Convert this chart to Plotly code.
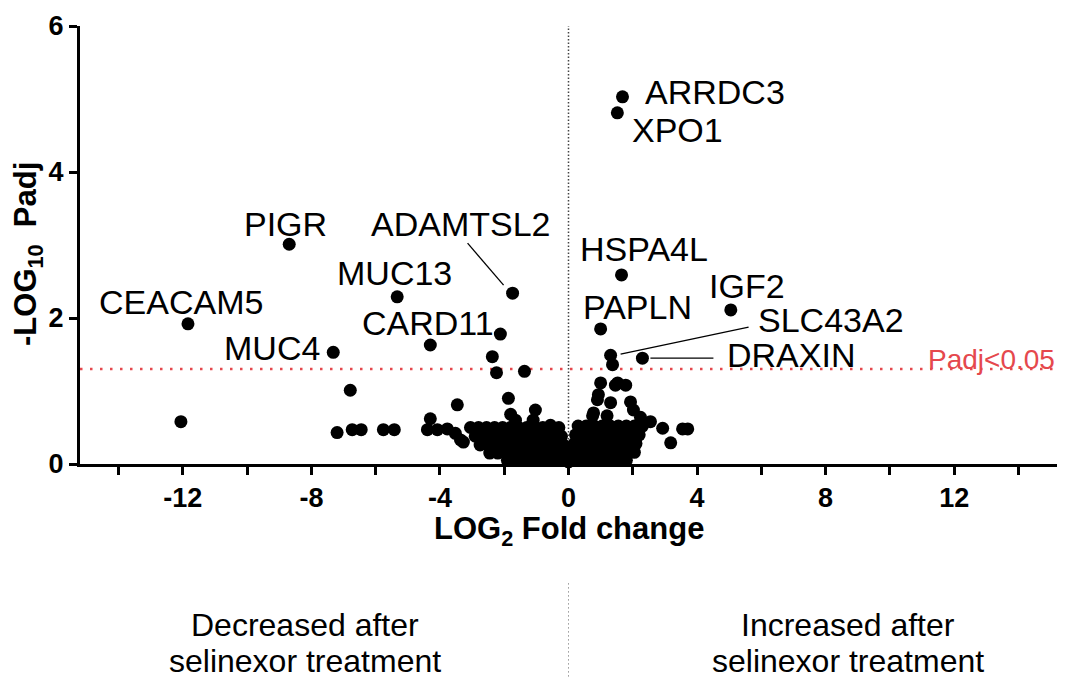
import plotly.graph_objects as go

# ---------------- data ----------------
gene_names = ["ARRDC3", "XPO1", "HSPA4L", "IGF2", "PAPLN", "SLC43A2", "DRAXIN",
              "PIGR", "ADAMTSL2", "MUC13", "CEACAM5", "CARD11", "MUC4"]
gene_x = [1.68, 1.52, 1.65, 5.05, 1.00, 1.31, 2.30,
          -8.69, -1.74, -5.33, -11.84, -4.30, -7.32]
gene_y = [5.03, 4.81, 2.59, 2.11, 1.85, 1.49, 1.45,
          3.01, 2.34, 2.29, 1.92, 1.63, 1.53]

# isolated unlabeled genes
scatter_x = [-12.06, -6.79, -2.12, -2.37, -2.24, -1.37, -7.20, -6.73, -6.45, -5.76,
             -5.42, -4.30, -4.39, -4.08, -3.77, -3.52, -3.36, -3.46, -3.27, -2.83,
             -1.87, -1.03, -1.80, -1.65, -1.10, -0.56,
             1.37, 0.93, 1.00, 1.46, 1.78, 1.53, 1.93, 2.02, 1.31, 0.90, 0.78,
             2.24, 2.55, 2.93, 3.18, 3.55, 3.71, 1.20, 0.75]
scatter_y = [0.58, 1.01, 1.78, 1.47, 1.25, 1.27, 0.43, 0.47, 0.47, 0.47,
             0.47, 0.62, 0.47, 0.47, 0.48, 0.42, 0.33, 0.81, 0.30, 0.40,
             0.90, 0.74, 0.68, 0.60, 0.60, 0.53,
             1.36, 0.95, 1.11, 1.08, 1.08, 1.11, 0.85, 0.74, 0.84, 0.88, 0.70,
             0.64, 0.58, 0.49, 0.29, 0.48, 0.48, 0.66, 0.66]

# dense non-significant core
core_x = [-3.05, -2.80, -2.55, -2.30, -2.05, -1.80, -1.55, -1.30, -1.05, -0.80, -0.55, -0.30,
          -2.90, -2.65, -2.40, -2.15, -1.90, -1.65, -1.40, -1.15, -0.90, -0.65, -0.40, -0.22,
          -2.75, -2.50, -2.25, -2.00, -1.75, -1.50, -1.25, -1.00, -0.75, -0.50, -0.30, -0.15,
          -2.45, -2.20, -1.95, -1.70, -1.45, -1.20, -0.95, -0.70, -0.45, -0.25, -0.10,
          -1.90, -1.65, -1.40, -1.15, -0.90, -0.65, -0.40, -0.20, -0.05,
          0.00,
          0.30, 0.55, 0.80, 1.05, 1.30, 1.55, 1.80, 2.05, 2.30,
          0.22, 0.45, 0.70, 0.95, 1.20, 1.45, 1.70, 1.95, 2.20,
          0.18, 0.40, 0.65, 0.90, 1.15, 1.40, 1.65, 1.90, 2.10,
          0.12, 0.35, 0.60, 0.85, 1.10, 1.35, 1.60, 1.85, 2.05,
          0.08, 0.30, 0.55, 0.80, 1.05, 1.30, 1.55, 1.80]
core_y = [0.50, 0.50, 0.50, 0.50, 0.50, 0.50, 0.50, 0.50, 0.50, 0.50, 0.50, 0.50,
          0.38, 0.38, 0.38, 0.38, 0.38, 0.38, 0.38, 0.38, 0.38, 0.38, 0.38, 0.38,
          0.26, 0.26, 0.26, 0.26, 0.26, 0.26, 0.26, 0.26, 0.26, 0.26, 0.26, 0.26,
          0.15, 0.15, 0.15, 0.15, 0.15, 0.15, 0.15, 0.15, 0.15, 0.15, 0.15,
          0.05, 0.05, 0.05, 0.05, 0.05, 0.05, 0.05, 0.05, 0.05,
          0.03,
          0.52, 0.52, 0.52, 0.52, 0.52, 0.52, 0.52, 0.52, 0.52,
          0.40, 0.40, 0.40, 0.40, 0.40, 0.40, 0.40, 0.40, 0.40,
          0.28, 0.28, 0.28, 0.28, 0.28, 0.28, 0.28, 0.28, 0.28,
          0.16, 0.16, 0.16, 0.16, 0.16, 0.16, 0.16, 0.16, 0.16,
          0.05, 0.05, 0.05, 0.05, 0.05, 0.05, 0.05, 0.05]

x_tick_vals = [-14, -12, -10, -8, -6, -4, -2, 0, 2, 4, 6, 8, 10, 12, 14]
x_tick_text = ["", "-12", "", "-8", "", "-4", "", "0", "", "4", "", "8", "", "12", ""]
y_tick_vals = [0, 2, 4, 6]
y_tick_text = ["0", "2", "4", "6"]

padj_threshold = 1.30  # -log10(0.05)

# label placement offsets in pixels (style only): (xshift, yshift, xanchor)
label_offsets = {
    "ARRDC3": (21, 5, "left"), "XPO1": (13, -17, "left"), "HSPA4L": (-44, 26, "left"),
    "IGF2": (-24, 24, "left"), "PAPLN": (-20, 22, "left"), "SLC43A2": (145, 35, "left"),
    "DRAXIN": (83, 3, "left"), "PIGR": (-47, 20, "left"), "ADAMTSL2": (-144, 69, "left"),
    "MUC13": (-62, 24, "left"), "CEACAM5": (-91, 22, "left"), "CARD11": (-70, 22, "left"),
    "MUC4": (-11, 4, "right"),
}
# leader lines in pixel offsets from the point (x0, y0up, x1, y1up)
leaders = {"SLC43A2": (10, 1, 138, 28), "DRAXIN": (8, 0, 71, 0), "ADAMTSL2": (-9, 8, -45, 50)}

FONT = "Liberation Sans, Arial, Helvetica, sans-serif"

fig = go.Figure()
marker = dict(color="black", size=13, line=dict(width=0))
fig.add_trace(go.Scatter(x=core_x, y=core_y, mode="markers", marker=marker,
                         cliponaxis=False, hoverinfo="skip", showlegend=False))
fig.add_trace(go.Scatter(x=scatter_x, y=scatter_y, mode="markers", marker=marker,
                         cliponaxis=False, showlegend=False))
fig.add_trace(go.Scatter(x=gene_x, y=gene_y, mode="markers", marker=marker,
                         text=gene_names, cliponaxis=False, showlegend=False))

# reference lines
fig.add_shape(type="line", x0=0, x1=0, y0=0, y1=6, xref="x", yref="y",
              line=dict(color="#444444", width=1.5, dash="1.5px,2px"), layer="below")
fig.add_shape(type="line", x0=0, x1=0, y0=-0.272, y1=-0.5, xref="x", yref="paper",
              line=dict(color="#999999", width=1, dash="1.5px,2.5px"))
fig.add_shape(type="line", x0=-15.2, x1=15.2, y0=padj_threshold, y1=padj_threshold,
              xref="x", yref="y", line=dict(color="#e5484d", width=2.5, dash="2.5px,7.5px"),
              layer="below")

annotations = []
for name, gx, gy in zip(gene_names, gene_x, gene_y):
    xs, ys, anc = label_offsets[name]
    annotations.append(dict(x=gx, y=gy, xref="x", yref="y", text=name, showarrow=False,
                            xanchor=anc, yanchor="middle", xshift=xs, yshift=ys,
                            font=dict(family=FONT, size=34, color="black")))
    if name in leaders:
        lx0, ly0, lx1, ly1 = leaders[name]
        fig.add_shape(type="line", xref="x", yref="y",
                      xsizemode="pixel", ysizemode="pixel", xanchor=gx, yanchor=gy,
                      x0=lx0, x1=lx1, y0=ly0, y1=ly1,
                      line=dict(color="black", width=1.3))

annotations.append(dict(x=1.0, y=padj_threshold, xref="paper", yref="y", text="Padj<0.05",
                        showarrow=False, xanchor="right", yanchor="middle", yshift=10,
                        font=dict(family=FONT, size=28, color="#e5484d")))
annotations.append(dict(x=0.5, y=-0.153, xref="paper", yref="paper",
                        text="<b>LOG<sub>2</sub> Fold change</b>", showarrow=False,
                        xanchor="center", yanchor="middle",
                        font=dict(family=FONT, size=31, color="black")))
annotations.append(dict(x=-0.053, y=0.48, xref="paper", yref="paper",
                        text="<b>-LOG<sub>10</sub>  Padj</b>", showarrow=False, textangle=-90,
                        xanchor="center", yanchor="middle",
                        font=dict(family=FONT, size=31, color="black")))
bottom_lines = [(-8.2, "Decreased after", -0.3676), (-8.2, "selinexor treatment", -0.449),
                (8.7, "Increased after", -0.3676), (8.7, "selinexor treatment", -0.449)]
for bx, btxt, by in bottom_lines:
    annotations.append(dict(x=bx, y=by, xref="x", yref="paper", text=btxt, showarrow=False,
                            xanchor="center", yanchor="middle",
                            font=dict(family=FONT, size=32, color="black")))

axis_common = dict(showline=True, linecolor="black", linewidth=3, ticks="outside",
                   ticklen=8, tickwidth=3, tickcolor="black", showgrid=False, zeroline=False,
                   tickfont=dict(family=FONT, size=27, color="black", weight="bold"))

fig.update_layout(
    width=1079, height=679,
    margin=dict(l=80, r=22, t=26, b=215),
    plot_bgcolor="white", paper_bgcolor="white",
    xaxis=dict(range=[-15.2, 15.2], tickmode="array", tickvals=x_tick_vals,
               ticktext=x_tick_text, **axis_common),
    yaxis=dict(range=[0, 6], tickmode="array", tickvals=y_tick_vals,
               ticktext=y_tick_text, **axis_common),
    annotations=annotations,
    showlegend=False,
)

fig.write_html("out.html")
